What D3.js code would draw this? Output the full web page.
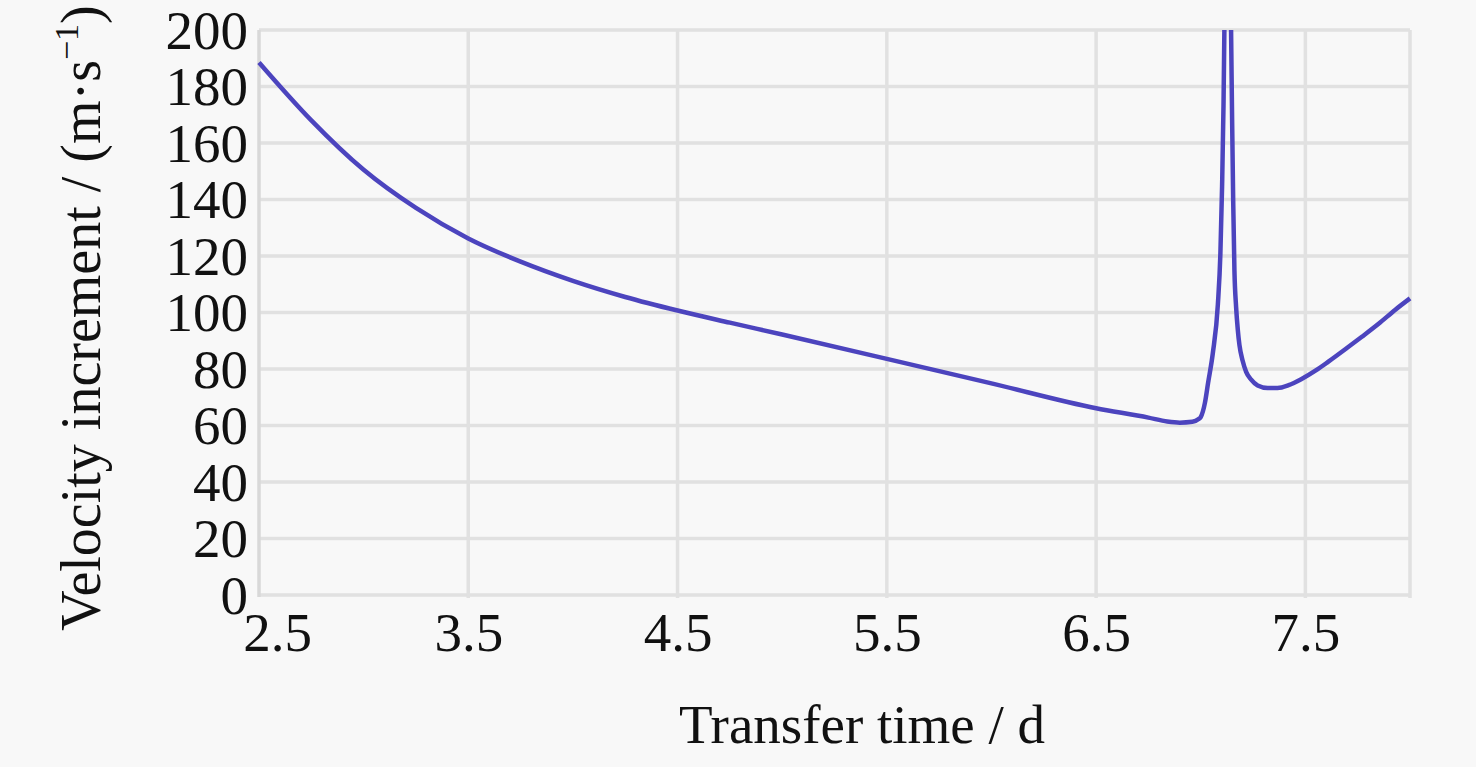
<!DOCTYPE html>
<html>
<head>
<meta charset="utf-8">
<script src="https://cdn.jsdelivr.net/npm/d3@7"></script>
<style>
  html, body { margin: 0; padding: 0; background: #f8f8f8; }
  svg { display: block; }
</style>
</head>
<body>
<script>
// ---- data ----
const transferTime = [2.5, 2.75, 3.0, 3.25, 3.5, 3.75, 4.0, 4.25, 4.5, 4.75, 5.0, 5.5, 6.0, 6.5, 6.75, 6.84, 6.9, 6.96, 6.99, 7.0, 7.02, 7.035, 7.058, 7.082, 7.094, 7.102, 7.109, 7.113, 7.13, 7.145, 7.15, 7.155, 7.161, 7.169, 7.177, 7.185, 7.2, 7.217, 7.24, 7.272, 7.32, 7.367, 7.42, 7.48, 7.55, 7.61, 7.7, 7.77, 7.85, 7.93, 8.0];
const velocityIncrement = [188.5, 168, 150.5, 137, 126.2, 118, 111.2, 105.5, 100.7, 96.4, 92.2, 83.6, 74.9, 66.1, 62.8, 61.4, 61.0, 61.3, 62.3, 63, 68, 75, 85.7, 103, 121, 144.5, 174, 200, 260, 200, 168, 140, 115, 102, 94, 88.5, 83, 79, 76.3, 74.2, 73.3, 73.3, 74.3, 76.4, 79.5, 82.6, 87.5, 91.4, 96, 101, 105];
const xTicks = [2.5, 3.5, 4.5, 5.5, 6.5, 7.5];
const xGrid = [3.5, 4.5, 5.5, 6.5, 7.5, 8.0];
const yTicks = [0, 20, 40, 60, 80, 100, 120, 140, 160, 180, 200];
const xDomain = [2.5, 8.0];
const yDomain = [0, 200];

(function () {
const W = 1476, H = 767;
const mLeft = 259, mRight = 1410, mTop = 30, mBottom = 595;
const FONT = "'Liberation Serif', 'DejaVu Serif', serif";

const svg = d3.select("body").append("svg").attr("width", W).attr("height", H);
svg.append("rect").attr("width", W).attr("height", H).attr("fill", "#f8f8f8");

const x = d3.scaleLinear().domain(xDomain).range([mLeft, mRight]);
const y = d3.scaleLinear().domain(yDomain).range([mBottom, mTop]);

const gridColor = "#e1e1e1";
// horizontal grid
svg.append("g").selectAll("line").data(yTicks).join("line")
  .attr("x1", mLeft).attr("x2", mRight)
  .attr("y1", d => y(d)).attr("y2", d => y(d))
  .attr("stroke", gridColor).attr("stroke-width", 3.5);
// vertical grid
svg.append("g").selectAll("line").data(xGrid).join("line")
  .attr("x1", d => x(d)).attr("x2", d => x(d))
  .attr("y1", mTop).attr("y2", mBottom + 3)
  .attr("stroke", gridColor).attr("stroke-width", 3.5);
// left axis line
svg.append("line").attr("x1", mLeft).attr("x2", mLeft).attr("y1", mTop).attr("y2", mBottom + 2)
  .attr("stroke", "#d8d8d8").attr("stroke-width", 3.5);

// y axis labels
const yAxis = d3.axisLeft(y).tickValues(yTicks).tickSize(0).tickPadding(11).tickFormat(d3.format("d"));
const gy = svg.append("g").attr("transform", `translate(${mLeft},0)`).call(yAxis);
gy.select(".domain").remove();
gy.selectAll("text").attr("font-family", FONT).attr("font-size", 55).attr("fill", "#111").attr("dy", "0.33em");

// x axis labels
const xAxis = d3.axisBottom(x).tickValues(xTicks).tickSize(0).tickPadding(0).tickFormat(d3.format(".1f"));
const gx = svg.append("g").attr("transform", `translate(0,${mBottom})`).call(xAxis);
gx.select(".domain").remove();
gx.selectAll("text").attr("font-family", FONT).attr("font-size", 55).attr("fill", "#111")
  .attr("y", 56).attr("dy", 0)
  .attr("dx", d => d === 2.5 ? 18 : 0);

// clip
svg.append("clipPath").attr("id", "plotclip").append("rect")
  .attr("x", mLeft - 2).attr("y", mTop).attr("width", mRight - mLeft + 4).attr("height", mBottom - mTop);

const pts = transferTime.map((t, i) => [t, velocityIncrement[i]]);
const line = d3.line().x(d => x(d[0])).y(d => y(d[1])).curve(d3.curveMonotoneX);
svg.append("path").datum(pts)
  .attr("clip-path", "url(#plotclip)")
  .attr("d", line)
  .attr("fill", "none")
  .attr("stroke", "#4c44be")
  .attr("stroke-width", 4.5)
  .attr("stroke-linejoin", "round");

// axis titles
svg.append("text")
  .attr("x", 862).attr("y", 743)
  .attr("text-anchor", "middle")
  .attr("font-family", FONT).attr("font-size", 55).attr("fill", "#111")
  .text("Transfer time / d");

const yt = svg.append("text")
  .attr("transform", "translate(100,318) rotate(-90)")
  .attr("text-anchor", "middle")
  .attr("font-family", FONT).attr("font-size", 56).attr("fill", "#111");
yt.append("tspan").text("Velocity increment / (m·s");
yt.append("tspan").attr("font-size", 34).attr("dy", -22).text("−1");
yt.append("tspan").attr("dy", 22).text(")");
})();
</script>
</body>
</html>
